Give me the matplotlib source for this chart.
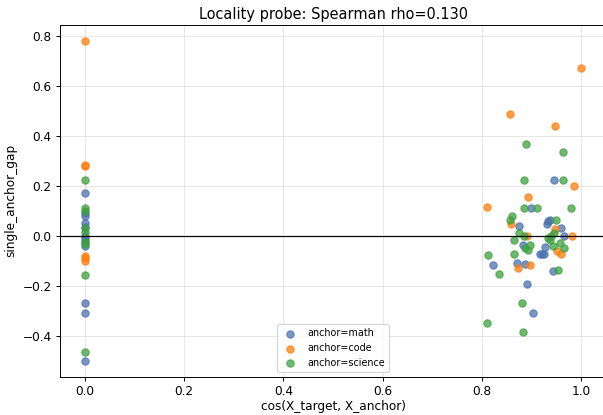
import matplotlib.pyplot as plt
import numpy as np

# cos similarity vs single anchor gap, one list per anchor
math_x = [0, 0, 0, 0, 0, 0, 0, 0, 0, 0, 0, 0,
          0.946, 0.899, 0.874, 0.932, 0.938, 0.934, 0.959, 0.966, 0.882, 0.927,
          0.917, 0.925, 0.823, 0.871, 0.887, 0.944, 0.891, 0.903, 0.921]
math_y = [0.17, 0.09, 0.078, 0.05, 0.035, 0.0, -0.01, -0.02, -0.04, -0.27, -0.31, -0.50,
          0.224, 0.113, 0.040, 0.048, 0.064, 0.058, 0.031, 0.0, -0.036, -0.046,
          -0.074, -0.072, -0.117, -0.110, -0.114, -0.143, -0.193, -0.310, -0.074]

code_x = [0, 0, 0, 0, 0, 0,
          0.857, 0.948, 1.0, 0.985, 0.893, 0.810, 0.858, 0.948, 0.890, 0.981,
          0.952, 0.960, 0.872, 0.897]
code_y = [0.78, 0.285, 0.28, -0.08, -0.09, -0.10,
          0.486, 0.439, 0.67, 0.201, 0.155, 0.117, 0.047, 0.028, 0.0, 0.0,
          -0.063, -0.074, -0.130, -0.117]

sci_x = [0, 0, 0, 0, 0, 0, 0, 0, 0,
         0.888, 0.963, 0.884, 0.963, 0.885, 0.911, 0.980, 0.860, 0.857, 0.949,
         0.874, 0.885, 0.865, 0.938, 0.896, 0.887, 0.892, 0.943, 0.958, 0.966,
         0.813, 0.865, 0.835, 0.954, 0.881, 0.810, 0.882, 0.934, 0.940, 0.945]
sci_y = [0.222, 0.111, 0.10, 0.03, 0.015, -0.025, -0.035, -0.157, -0.465,
         0.368, 0.335, 0.224, 0.224, 0.113, 0.113, 0.113, 0.078, 0.064, 0.064,
         0.011, -0.003, -0.016, -0.016, -0.039, -0.050, -0.059, -0.043, -0.029, -0.050,
         -0.076, -0.072, -0.154, -0.137, -0.271, -0.348, -0.387, -0.009, 0.0, 0.01]

#-- reference looks like a scaled-down render, so draw at dpi 87 --
dpi = 87
fig, ax = plt.subplots(figsize=(603 / dpi, 415 / dpi), dpi=dpi)
fig.subplots_adjust(left=0.0995, right=1.005, top=0.94, bottom=0.0925)

ax.scatter(math_x, math_y, s=36, alpha=0.75, color='#4c72b0', label='anchor=math')
ax.scatter(code_x, code_y, s=36, alpha=0.75, color='#ff7f0e', label='anchor=code')
ax.scatter(sci_x, sci_y, s=36, alpha=0.75, color='#3fa03f', label='anchor=science')

ax.axhline(0, color='black', lw=1)
ax.grid(alpha=0.3)
ax.set_axisbelow(True)

ax.set_title('Locality probe: Spearman rho=0.130', pad=5)
ax.set_xlabel('cos(X_target, X_anchor)', labelpad=2)
ax.set_ylabel('single_anchor_gap')
ax.legend(loc='lower center', fontsize=8)

fig.savefig('out.png', dpi=dpi)
